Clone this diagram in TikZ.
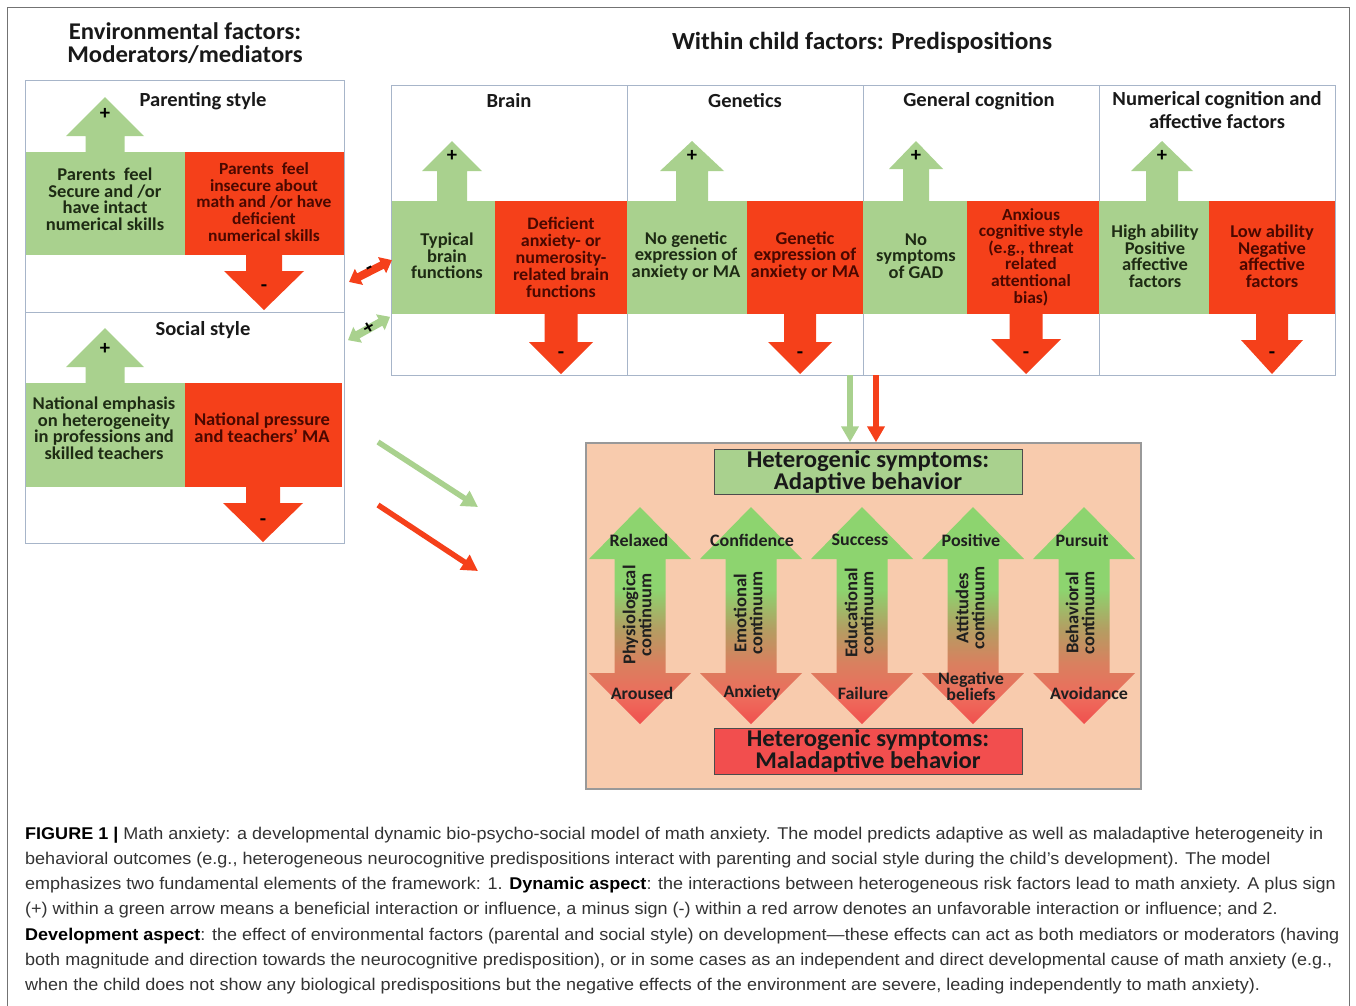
\documentclass[tikz,border=0pt]{standalone}
\usepackage{fontspec}
\setmainfont{Carlito}[FakeStretch=1.03]
\newfontfamily\capfont{Liberation Sans}[FakeStretch=1.06]
\usetikzlibrary{arrows.meta}
\definecolor{gfill}{HTML}{A9D18E}
\definecolor{rfill}{HTML}{F5401A}
\definecolor{gtext}{HTML}{1E2B14}
\definecolor{rtext}{HTML}{4A0800}
\definecolor{panelline}{HTML}{A7B5C9}
\definecolor{peach}{HTML}{F8CBAD}
\definecolor{maladapt}{HTML}{F24E4E}
\definecolor{cgreen}{HTML}{8DD46F}
\definecolor{colive}{HTML}{B39E62}
\definecolor{cred3}{HTML}{D9805F}
\definecolor{cred2}{HTML}{EE6B5C}
\definecolor{cred}{HTML}{F0504E}
\definecolor{captgray}{HTML}{333333}
\pgfdeclareverticalshading{contshade}{100bp}{color(0bp)=(cred); color(25bp)=(cred); color(31bp)=(cred2); color(39bp)=(cred3); color(47bp)=(colive); color(56bp)=(cgreen); color(100bp)=(cgreen)}
% block arrow: color, cx, tip y, head base y, head half width, shaft half width, shaft end y
\newcommand\blockarr[7]{\fill[#1] (#2,#3) -- ({#2+#5},#4) -- ({#2+#6},#4) -- ({#2+#6},#7) -- ({#2-#6},#7) -- ({#2-#6},#4) -- ({#2-#5},#4) -- cycle;}
\newcommand\contarr[1]{\shade[shading=contshade] (#1,507) -- ({#1+51},559) -- ({#1+25.5},559) -- ({#1+25.5},673) -- ({#1+51},673) -- (#1,724) -- ({#1-51},673) -- ({#1-25.5},673) -- ({#1-25.5},559) -- ({#1-51},559) -- cycle;}
\newcommand\dblarr[1]{\fill[#1] (-24,0) -- (-13,9) -- (-13,4) -- (13,4) -- (13,9) -- (24,0) -- (13,-9) -- (13,-4) -- (-13,-4) -- (-13,-9) -- cycle;}
\tikzset{
  ttl/.style={font=\bfseries\fontsize{24.6}{21}\selectfont, align=center, text=black!90},
  ptitle/.style={font=\bfseries\fontsize{20}{23}\selectfont, align=center, text=black!90},
  gtxt/.style={font=\bfseries\fontsize{18}{16.5}\selectfont, align=center, text=gtext},
  rtxt/.style={font=\bfseries\fontsize{17.5}{16.5}\selectfont, align=center, text=rtext},
  sgn/.style={font=\bfseries\fontsize{20}{20}\selectfont, text=black},
  symbox/.style={draw=black!70, line width=1pt, align=center, font=\bfseries\fontsize{24}{20.5}\selectfont, text=black!90},
  clab/.style={font=\bfseries\fontsize{17.5}{16}\selectfont, align=center, text=black!88},
  ctext/.style={font=\bfseries\fontsize{18}{16}\selectfont, align=center, text=black!88, rotate=90},
  captxt/.style={anchor=base west, font=\capfont\fontsize{17}{20}\selectfont, text=captgray},
  garr/.style={draw=gfill, line width=5.5pt, -{Triangle[length=16pt,width=17pt]}},
  rarr/.style={draw=rfill, line width=5.5pt, -{Triangle[length=16pt,width=17pt]}},
  panel/.style={draw=panelline, line width=1pt}
}
\begin{document}
\begin{tikzpicture}[x=1pt,y=-1pt, every node/.style={inner sep=0pt}]
\useasboundingbox (0,0) rectangle (1356,1005);
\fill[white] (0,0) rectangle (1356,1005);
\draw[black!55, line width=1pt] (7,1006) -- (7,7) -- (1349,7) -- (1349,1006);

% titles
\node[ttl, font=\bfseries\fontsize{24}{23}\selectfont] (envtitle) at (185,43) {Environmental factors:\\Moderators/mediators};
\node[ttl] (childtitle) at (862,43) {Within child factors: Predispositions};

% ---------- left panel ----------
\fill[gfill] (25,152) rectangle (185,255);
\fill[rfill] (185,152) rectangle (344,255);
\fill[gfill] (25,383) rectangle (185,487);
\fill[rfill] (185,383) rectangle (342,487);
\draw[panel] (25,80) rectangle (344,312);
\draw[panel] (25,312) rectangle (344,543);
\blockarr{gfill}{105}{97}{136}{39}{19.5}{152}
\blockarr{rfill}{264}{310}{271}{40}{18}{255}
\blockarr{gfill}{105}{328}{367}{39}{19.5}{383}
\blockarr{rfill}{263}{542}{503}{40}{17}{487}
\node[ptitle] (pstitle) at (203,101) {Parenting style};
\node[ptitle] (sstitle) at (203,330) {Social style};
\node[sgn] (psplus) at (105,114) {+};
\node[sgn] (psminus) at (264,288) {-};
\node[sgn] (ssplus) at (105,349) {+};
\node[sgn] (ssminus) at (263,522) {-};
\node[gtxt] (psg) at (105,199) {Parents\ \ feel\\Secure and /or\\have intact\\numerical skills};
\node[rtxt, font=\bfseries\fontsize{17}{16.8}\selectfont] (psr) at (264,202) {Parents\ \ feel\\insecure about\\math and /or have\\deficient\\numerical skills};
\node[gtxt] (ssg) at (104,428) {National emphasis\\on heterogeneity\\in professions and\\skilled teachers};
\node[rtxt, font=\bfseries\fontsize{18}{17}\selectfont] (ssr) at (262,428) {National pressure\\and teachers’ MA};

% ---------- right panel ----------
\fill[gfill] (391,201) rectangle (495,314);
\fill[rfill] (495,201) rectangle (627,314);
\fill[gfill] (627,201) rectangle (747,314);
\fill[rfill] (747,201) rectangle (863,314);
\fill[gfill] (863,201) rectangle (967,314);
\fill[rfill] (967,201) rectangle (1099,314);
\fill[gfill] (1099,201) rectangle (1209,314);
\fill[rfill] (1209,201) rectangle (1335,314);
\draw[panel] (391,85) rectangle (1335,375);
\draw[panel] (627,85) -- (627,201) (627,314) -- (627,375);
\draw[panel] (863,85) -- (863,201) (863,314) -- (863,375);
\draw[panel] (1099,85) -- (1099,201) (1099,314) -- (1099,375);
\blockarr{gfill}{452}{141}{171}{30}{15}{201}
\blockarr{rfill}{561}{374}{342}{32}{16.5}{314}
\blockarr{gfill}{692}{141}{171}{32}{16}{201}
\blockarr{rfill}{800}{374}{342}{32}{16}{314}
\blockarr{gfill}{916}{141}{169}{27}{13}{201}
\blockarr{rfill}{1026}{374}{339}{35}{16.5}{314}
\blockarr{gfill}{1162}{141}{171}{31}{16}{201}
\blockarr{rfill}{1272}{374}{340}{31}{16}{314}
\node[ptitle] (brtitle) at (509,101) {Brain};
\node[ptitle] (getitle) at (745,101) {Genetics};
\node[ptitle] (gctitle) at (979,101) {General cognition};
\node[ptitle] (nctitle) at (1217,110) {Numerical cognition and\\affective factors};
\foreach \cx/\nm in {452/br,692/ge,916/gc,1162/nc}{\node[sgn] (\nm plus) at (\cx,156) {+};}
\foreach \cx/\nm in {561/br,800/ge,1026/gc,1272/nc}{\node[sgn] (\nm minus) at (\cx,355) {-};}
\node[gtxt] (brg) at (447,256) {Typical\\brain\\functions};
\node[rtxt, font=\bfseries\fontsize{17.5}{17}\selectfont] (brr) at (561,257) {Deficient\\anxiety- or\\numerosity-\\related brain\\functions};
\node[gtxt] (geg) at (686,256) {No genetic\\expression of\\anxiety or MA};
\node[rtxt, font=\bfseries\fontsize{18}{16.5}\selectfont] (ger) at (805,256) {Genetic\\expression of\\anxiety or MA};
\node[gtxt] (gcg) at (916,256) {No\\symptoms\\of GAD};
\node[rtxt, font=\bfseries\fontsize{17}{16.6}\selectfont] (gcr) at (1031,257) {Anxious\\cognitive style\\(e.g., threat\\related\\attentional\\bias)};
\node[gtxt] (ncg) at (1155,256) {High ability\\Positive\\affective\\factors};
\node[rtxt, font=\bfseries\fontsize{18}{16.5}\selectfont] (ncr) at (1272,256) {Low ability\\Negative\\affective\\factors};

% ---------- interaction double arrows ----------
\begin{scope}[shift={(370.5,271)}, rotate=27]
  \dblarr{rfill}
  \node[sgn, rotate=27] (intminus) at (0,-1) {-};
\end{scope}
\begin{scope}[shift={(369,328.5)}, rotate=29]
  \dblarr{gfill}
  \node[sgn, rotate=29] (intplus) at (0,0) {+};
\end{scope}

% ---------- diagonal arrows ----------
\coordinate (dgs) at (378,442);
\coordinate (dge) at (478,507);
\coordinate (drs) at (378,505);
\coordinate (dre) at (478,571);
\draw[garr] (dgs) -- (dge);
\draw[rarr] (drs) -- (dre);

% ---------- symptom box ----------
\node[draw=black!40, line width=1.5pt, fill=peach, minimum width=555pt, minimum height=346pt] (symptoms) at (863.5,616) {};
\coordinate (vgs) at (850,375);
\coordinate (vrs) at (876,375);
\draw[garr, line width=6pt] (vgs) -- (vgs |- symptoms.north);
\draw[rarr, line width=6pt] (vrs) -- (vrs |- symptoms.north);
\node[symbox, fill=gfill, minimum width=308pt, minimum height=45pt] (adbox) at (868,471.5) {Heterogenic symptoms:\\Adaptive behavior};
\node[symbox, fill=maladapt, minimum width=308pt, minimum height=46pt] (mabox) at (868,751) {Heterogenic symptoms:\\Maladaptive behavior};
\foreach \cx in {640,751,862,973,1084}{\contarr{\cx}}
\node[clab] (tl1) at (639,540) {Relaxed};
\node[clab] (tl2) at (752,540) {Confidence};
\node[clab] (tl3) at (860,540) {Success};
\node[clab] (tl4) at (971,540) {Positive};
\node[clab] (tl5) at (1082,540) {Pursuit};
\node[clab] (bl1) at (642,693) {Aroused};
\node[clab] (bl2) at (752,693) {Anxiety};
\node[clab] (bl3) at (863,693) {Failure};
\node[clab] (bl4) at (971,686) {Negative\\beliefs};
\node[clab] (bl5) at (1089,693) {Avoidance};
\node[ctext] (ct1) at (637,615) {Physiological\\continuum};
\node[ctext] (ct2) at (748,613) {Emotional\\continuum};
\node[ctext] (ct3) at (859,613) {Educational\\continuum};
\node[ctext] (ct4) at (970,608) {Attitudes\\continuum};
\node[ctext] (ct5) at (1080,613) {Behavioral\\continuum};

% ---------- caption ----------
\node[captxt] (cap1) at (25,839) {{\color{black}\bfseries FIGURE 1 |} Math anxiety: a developmental dynamic bio-psycho-social model of math anxiety. The model predicts adaptive as well as maladaptive heterogeneity in};
\node[captxt] (cap2) at (25,864.3) {behavioral outcomes (e.g., heterogeneous neurocognitive predispositions interact with parenting and social style during the child’s development). The model};
\node[captxt] (cap3) at (25,889.6) {emphasizes two fundamental elements of the framework: 1. {\color{black}\bfseries Dynamic aspect}: the interactions between heterogeneous risk factors lead to math anxiety. A plus sign};
\node[captxt] (cap4) at (25,914.9) {(+) within a green arrow means a beneficial interaction or influence, a minus sign (-) within a red arrow denotes an unfavorable interaction or influence; and 2.};
\node[captxt] (cap5) at (25,940.2) {{\color{black}\bfseries Development aspect}: the effect of environmental factors (parental and social style) on development—these effects can act as both mediators or moderators (having};
\node[captxt] (cap6) at (25,965.5) {both magnitude and direction towards the neurocognitive predisposition), or in some cases as an independent and direct developmental cause of math anxiety (e.g.,};
\node[captxt] (cap7) at (25,990.8) {when the child does not show any biological predispositions but the negative effects of the environment are severe, leading independently to math anxiety).};
\end{tikzpicture}
\end{document}
